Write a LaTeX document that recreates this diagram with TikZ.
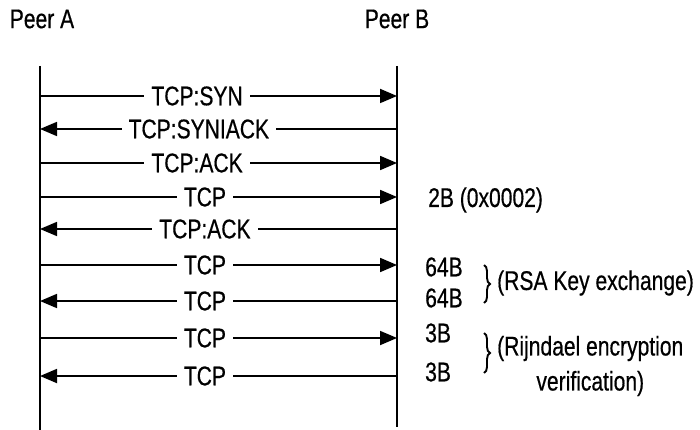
\documentclass[tikz,border=0pt]{standalone}
\usepackage{fontspec}
\setmainfont{Liberation Sans}[FakeStretch=0.78,FakeBold=0.5]
\usetikzlibrary{arrows.meta,decorations.pathreplacing}
\begin{document}
\begin{tikzpicture}[x=1pt,y=-1pt,
  every node/.style={font=\fontsize{27}{35}\selectfont, inner sep=0pt},
  life/.style={line width=1.8pt},
  msg/.style={line width=1.8pt, -{Triangle[length=17pt,width=14pt]}},
  lbl/.style={fill=white, inner xsep=7pt, inner ysep=2pt},
  note/.style={anchor=west},
  grp/.style={line width=1.9pt, decorate, decoration={brace, amplitude=6pt}}]
  \useasboundingbox (0,0) rectangle (700,430);

  % peers and their lifelines
  \node (pa) at (42,19) {Peer A};
  \node (pb) at (397,19) {Peer B};
  \coordinate (pa0) at (40,66);
  \coordinate (pa1) at (40,430);
  \coordinate (pb0) at (397,66);
  \coordinate (pb1) at (397,427);
  \draw[life] (pa0) -- (pa1);
  \draw[life] (pb0) -- (pb1);

  % message end points on the two lifelines
  \foreach \i/\y in {1/96,2/129,3/163,4/197,5/229,6/265,7/301,8/338,9/376}{
    \coordinate (a\i) at (40,\y);
    \coordinate (b\i) at (397,\y);
  }

  % messages
  \draw[msg] (a1) -- node[lbl, pos=0.44] {TCP:SYN} (b1);
  \draw[msg] (b2) -- node[lbl, pos=0.555] {TCP:SYNIACK} (a2);
  \draw[msg] (a3) -- node[lbl, pos=0.44] {TCP:ACK} (b3);
  \draw[msg] (a4) -- node[lbl, pos=0.462] {TCP} (b4);
  \draw[msg] (b5) -- node[lbl, pos=0.538] {TCP:ACK} (a5);
  \draw[msg] (a6) -- node[lbl, pos=0.462] {TCP} (b6);
  \draw[msg] (b7) -- node[lbl, pos=0.538] {TCP} (a7);
  \draw[msg] (a8) -- node[lbl, pos=0.462] {TCP} (b8);
  \draw[msg] (b9) -- node[lbl, pos=0.538] {TCP} (a9);

  % payload sizes
  \node[note] (s4) at (428,200) {2B (0x0002)};
  \node[note] (s6) at (425,267) {64B};
  \node[note] (s7) at (425,298) {64B};
  \node[note] (s8) at (425,333) {3B};
  \node[note] (s9) at (425,372) {3B};

  % grouped exchanges
  \coordinate (g1t) at (484,265);
  \coordinate (g1b) at (484,303);
  \coordinate (g2t) at (484,333);
  \coordinate (g2b) at (484,373);
  \draw[grp] (g1t) -- (g1b);
  \draw[grp] (g2t) -- (g2b);
  \node[note] (rsa) at (497,283) {(RSA Key exchange)};
  \node[note, align=center] (rij) at (497,366) {(Rijndael encryption\\verification)};
\end{tikzpicture}
\end{document}
